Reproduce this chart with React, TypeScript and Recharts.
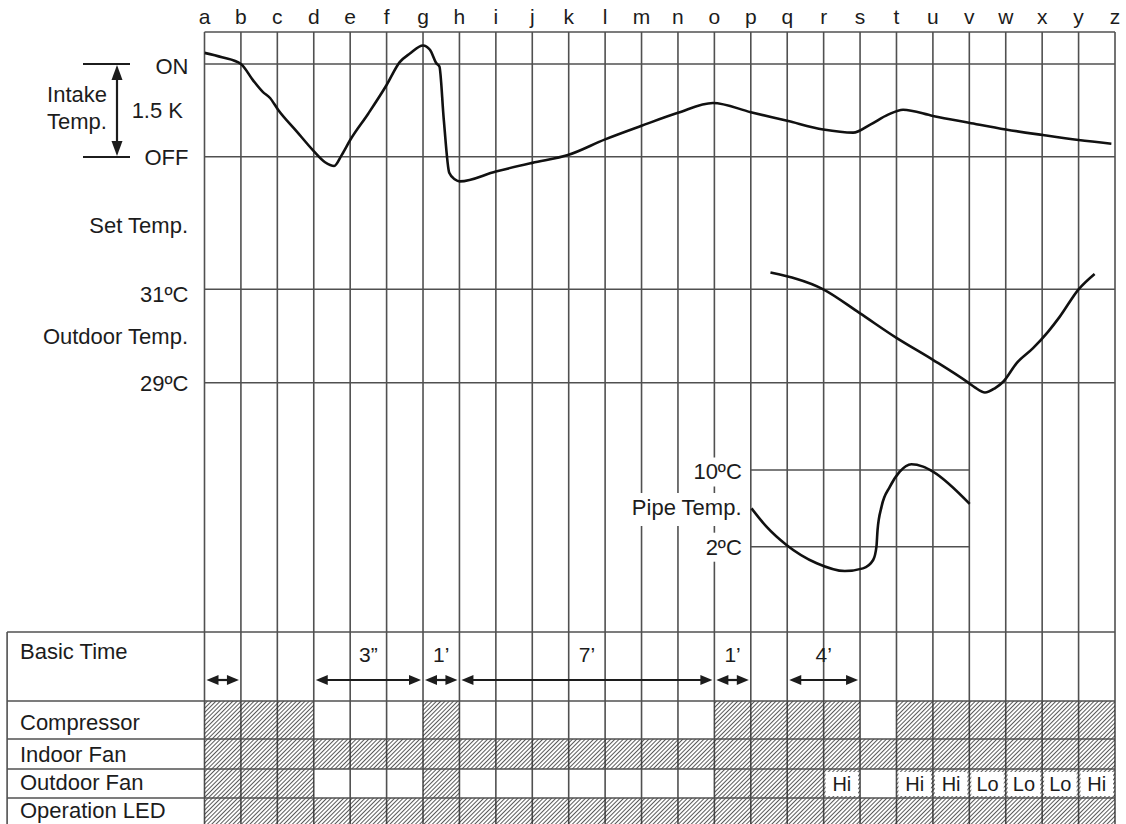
import React from "react";
import {
  ComposedChart, Line, XAxis, YAxis, CartesianGrid,
  ReferenceLine, ReferenceArea
} from "recharts";

const W = 1126;
const H = 824;
const FONT = '"Liberation Sans", Arial, Helvetica, sans-serif';
const INK = "#1c1c1c";
const GRID = "#505050";

// time grid a..z, x values are grid steps counted from "a"
const letters = "abcdefghijklmnopqrstuvwxyz".split("");
const letterTicks = letters.map((_, i) => i);

// intake temp, K above the OFF point (ON = 1.5 K)
const intakeX = [0, 0.48, 1.0, 1.33, 1.6, 1.8, 2.02, 2.53, 3.0, 3.31, 3.56, 3.77, 4.0, 4.5, 5.0, 5.36, 5.64, 6.0, 6.19, 6.37, 6.45, 6.57, 6.72, 6.88, 7.01, 8.0, 9.0, 10.0, 11.0, 12.0, 13.0, 13.96, 15.0, 16.0, 16.99, 17.81, 18.28, 18.77, 19.18, 20.0, 20.99, 22.0, 23.02, 24.0, 24.9];
const intakeK = [1.68, 1.61, 1.5, 1.24, 1.05, 0.95, 0.76, 0.41, 0.09, -0.09, -0.15, 0.03, 0.27, 0.7, 1.16, 1.53, 1.67, 1.8, 1.73, 1.51, 1.46, 0.6, -0.26, -0.37, -0.4, -0.24, -0.1, 0.03, 0.28, 0.5, 0.71, 0.87, 0.72, 0.58, 0.44, 0.39, 0.52, 0.68, 0.76, 0.66, 0.55, 0.44, 0.35, 0.27, 0.21];

// outdoor temp, degC
const outdoorX = [15.54, 16.99, 17.99, 19.0, 20.0, 20.99, 21.15, 21.43, 21.7, 21.93, 22.3, 22.75, 23.16, 23.48, 24.0, 24.44];
const outdoorC = [31.36, 31.0, 30.49, 29.96, 29.49, 28.99, 28.9, 28.79, 28.88, 29.02, 29.42, 29.74, 30.09, 30.41, 31.0, 31.33];

// pipe temp, degC
const pipeX = [15.02, 15.43, 15.98, 16.81, 17.58, 18.08, 18.36, 18.45, 18.48, 18.59, 18.82, 19.09, 19.41, 19.73, 20.0, 21.01];
const pipeC = [6.0, 4.09, 2.18, 0.27, -0.54, -0.26, 0.61, 2.0, 3.74, 6.18, 8.26, 9.83, 10.6, 10.35, 9.83, 6.46];

// states per cell (a-b ... y-z)
const compressorOn = [1, 1, 1, 0, 0, 0, 1, 0, 0, 0, 0, 0, 0, 0, 1, 1, 1, 1, 0, 1, 1, 1, 1, 1, 1];
const indoorFanOn = [1, 1, 1, 1, 1, 1, 1, 1, 1, 1, 1, 1, 1, 1, 1, 1, 1, 1, 1, 1, 1, 1, 1, 1, 1];
const outdoorFanOn = [1, 1, 1, 0, 0, 0, 1, 0, 0, 0, 0, 0, 0, 0, 1, 1, 1, 1, 0, 1, 1, 1, 1, 1, 1];
const outdoorFanSpeed = ["", "", "", "", "", "", "", "", "", "", "", "", "", "", "", "", "", "Hi", "", "Hi", "Hi", "Lo", "Lo", "Lo", "Hi"];
const ledOn = [1, 1, 1, 1, 1, 1, 1, 1, 1, 1, 1, 1, 1, 1, 1, 1, 1, 1, 1, 1, 1, 1, 1, 1, 1];

// basic time spans
const spanFrom = [0, 3, 6, 7, 14, 16];
const spanTo = [1, 6, 7, 14, 15, 18];
const spanText = ["", "3\u201D", "1\u2019", "7\u2019", "1\u2019", "4\u2019"];

// table layout (pixel rows on the "table" axis)
const TABLE_LEFT = -5.42;
const rowLines = [632, 701, 739, 769, 798];
const ARROW_Y = 680;
const rows = [
  { on: compressorOn, top: 701, bottom: 739 },
  { on: indoorFanOn, top: 739, bottom: 769 },
  { on: outdoorFanOn, top: 769, bottom: 798, text: outdoorFanSpeed },
  { on: ledOn, top: 798, bottom: 824 },
];

function SideLabel({ viewBox, text, gap = 16, dy = 0, box = 0 }: any) {
  if (!viewBox) return null;
  const x = viewBox.x - gap;
  const y = viewBox.y + dy;
  return (
    <g>
      {box > 0 && <rect x={x - box - 3} y={y - 14} width={box + 7} height={29} fill="#fff" />}
      <text x={x} y={y + 8} textAnchor="end" fontSize={22} fontFamily={FONT} fill={INK}>{text}</text>
    </g>
  );
}

function SpeedLabel({ viewBox, text }: any) {
  if (!viewBox || !text) return null;
  const { x, y, width, height } = viewBox;
  return (
    <g>
      <rect x={x + 2} y={y + 3} width={width - 4} height={height - 5} fill="#fff" />
      <text x={x + width / 2} y={y + height / 2 + 7} textAnchor="middle" fontSize={20} fontFamily={FONT} fill={INK}>{text}</text>
    </g>
  );
}

function SpanArrow(props: any) {
  const { x1, x2, y1 } = props;
  const l = Math.min(x1, x2) + 2;
  const r = Math.max(x1, x2) - 2;
  const y = y1;
  const hl = 12;
  const hw = 5;
  return (
    <g>
      <line x1={l + hl - 1} x2={r - hl + 1} y1={y} y2={y} stroke={INK} strokeWidth={2.2} />
      <polygon points={`${l},${y} ${l + hl},${y - hw} ${l + hl},${y + hw}`} fill={INK} />
      <polygon points={`${r},${y} ${r - hl},${y - hw} ${r - hl},${y + hw}`} fill={INK} />
    </g>
  );
}

export default function App() {
  const intakeData = intakeX.map((x, i) => ({ x, v: intakeK[i] }));
  const outdoorData = outdoorX.map((x, i) => ({ x, v: outdoorC[i] }));
  const pipeData = pipeX.map((x, i) => ({ x, v: pipeC[i] }));

  return (
    <div style={{ position: "absolute", left: 0, top: 0, width: W, height: H, background: "#fff" }}>
      <ComposedChart width={W} height={H} margin={{ top: 0, right: 11, bottom: 0, left: 204.5 }}>
        <defs>
          <pattern id="hatch" width="3" height="3" patternUnits="userSpaceOnUse" patternTransform="rotate(45)">
            <line x1="0" y1="0" x2="0" y2="3" stroke="#222" strokeWidth="1.5" />
          </pattern>
        </defs>
        <XAxis
          dataKey="x" type="number" orientation="top" domain={[0, 25]}
          ticks={letterTicks} interval={0} tickFormatter={(i: number) => letters[i]}
          height={32} tickLine={false} allowDataOverflow
          axisLine={{ stroke: GRID, strokeWidth: 1.6 }}
          tick={{ fontSize: 21, fill: INK, fontFamily: FONT }}
        />
        {/* hidden scales: ON/OFF at 64/157px, 31/29 degC at 289/383px, 10/2 degC at 470/547px */}
        <YAxis yAxisId="intake" hide type="number" domain={[-10.8, 2.018]} allowDataOverflow />
        <YAxis yAxisId="outdoor" hide type="number" domain={[19.55, 36.51]} allowDataOverflow />
        <YAxis yAxisId="pipe" hide type="number" domain={[-26.92, 55.68]} allowDataOverflow />
        <YAxis yAxisId="table" hide type="number" domain={[32, 824]} reversed allowDataOverflow />
        <CartesianGrid horizontal={false} stroke={GRID} strokeWidth={1.6} yAxisId="table" />

        {rows.map((row, ri) =>
          row.on.map((on, ci) =>
            on ? (
              <ReferenceArea
                key={`c${ri}-${ci}`} yAxisId="table"
                x1={ci} x2={ci + 1} y1={row.top} y2={row.bottom}
                fill="url(#hatch)" fillOpacity={1} stroke="none"
                label={row.text && row.text[ci] ? <SpeedLabel text={row.text[ci]} /> : undefined}
              />
            ) : null
          )
        )}

        <ReferenceLine yAxisId="intake" y={1.5} stroke={GRID} strokeWidth={1.6} label={<SideLabel text="ON" dy={2} />} />
        <ReferenceLine yAxisId="intake" y={0} stroke={GRID} strokeWidth={1.6} label={<SideLabel text="OFF" />} />
        <ReferenceLine yAxisId="outdoor" y={31} stroke={GRID} strokeWidth={1.6} label={<SideLabel text={"31\u00BAC"} dy={5} />} />
        <ReferenceLine yAxisId="outdoor" y={29} stroke={GRID} strokeWidth={1.6} label={<SideLabel text={"29\u00BAC"} />} />
        <ReferenceLine yAxisId="pipe" segment={[{ x: 15, y: 10 }, { x: 21, y: 10 }]} stroke={GRID} strokeWidth={1.6}
          label={<SideLabel text={"10\u00BAC"} gap={9} dy={1.5} box={50} />} />
        <ReferenceLine yAxisId="pipe" segment={[{ x: 15, y: 2 }, { x: 21, y: 2 }]} stroke={GRID} strokeWidth={1.6}
          label={<SideLabel text={"2\u00BAC"} gap={9} box={38} />} />

        {rowLines.map((y) => (
          <ReferenceLine key={`r${y}`} yAxisId="table" ifOverflow="visible"
            segment={[{ x: TABLE_LEFT, y }, { x: 25, y }]} stroke={GRID} strokeWidth={1.6} />
        ))}
        <ReferenceLine yAxisId="table" ifOverflow="visible"
          segment={[{ x: TABLE_LEFT, y: 632 }, { x: TABLE_LEFT, y: 824 }]} stroke={GRID} strokeWidth={1.6} />

        {spanFrom.map((from, i) => (
          <ReferenceLine key={`s${i}`} yAxisId="table"
            segment={[{ x: from, y: ARROW_Y }, { x: spanTo[i], y: ARROW_Y }]}
            shape={(p: any) => <SpanArrow {...p} />}
            label={spanText[i] ? { value: spanText[i], position: "top", offset: 18, fontSize: 21, fill: INK, fontFamily: FONT } : undefined}
          />
        ))}

        <Line yAxisId="intake" data={intakeData} dataKey="v" type="monotone" stroke="#111" strokeWidth={2.6} dot={false} isAnimationActive={false} />
        <Line yAxisId="outdoor" data={outdoorData} dataKey="v" type="monotone" stroke="#111" strokeWidth={2.6} dot={false} isAnimationActive={false} />
        <Line yAxisId="pipe" data={pipeData} dataKey="v" type="monotone" stroke="#111" strokeWidth={2.6} dot={false} isAnimationActive={false} />
      </ComposedChart>

      <svg width={W} height={H} style={{ position: "absolute", left: 0, top: 0, pointerEvents: "none" }}
        fontFamily={FONT} fontSize={22} fill={INK}>
        <line x1={83} x2={130} y1={64} y2={64} stroke={INK} strokeWidth={2.2} />
        <line x1={83} x2={130} y1={157} y2={157} stroke={INK} strokeWidth={2.2} />
        <line x1={117} x2={117} y1={75} y2={146} stroke={INK} strokeWidth={2.2} />
        <polygon points="117,65 111.5,80 122.5,80" />
        <polygon points="117,156 111.5,141 122.5,141" />
        <text x={77} y={102} textAnchor="middle">Intake</text>
        <text x={77} y={129} textAnchor="middle">Temp.</text>
        <text x={183} y={118} textAnchor="end">1.5 K</text>
        <text x={188} y={233} textAnchor="end">Set Temp.</text>
        <text x={188} y={344} textAnchor="end">Outdoor Temp.</text>
        <rect x={624} y={493} width={122} height={33} fill="#fff" />
        <text x={741.5} y={515} textAnchor="end">Pipe Temp.</text>
        <text x={20} y={659}>Basic Time</text>
        <text x={20} y={730}>Compressor</text>
        <text x={20} y={762}>Indoor Fan</text>
        <text x={20} y={790}>Outdoor Fan</text>
        <text x={20} y={818}>Operation LED</text>
      </svg>
    </div>
  );
}
